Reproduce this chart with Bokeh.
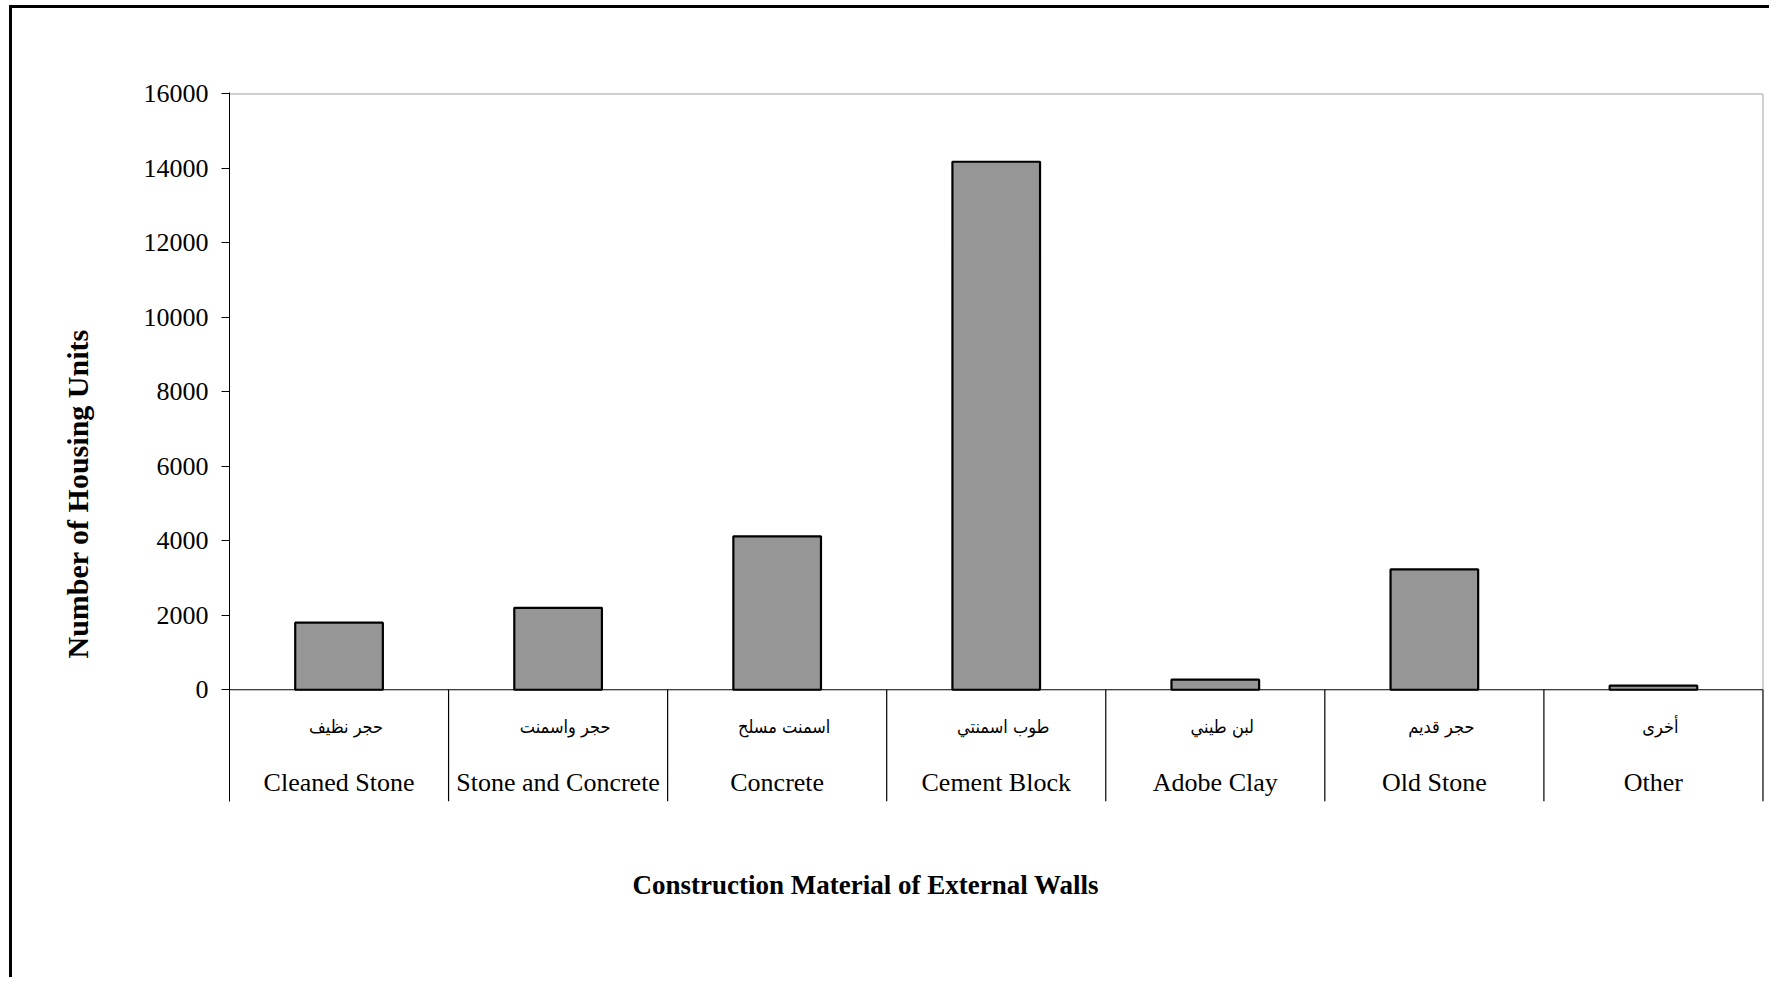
import numpy as np
from bokeh.plotting import figure
from bokeh.models import Range1d, FixedTicker, ColumnDataSource, Title
from bokeh.core.properties import value
from bokeh.embed import file_html
from bokeh.resources import INLINE

categories_en = ["Cleaned Stone", "Stone and Concrete", "Concrete", "Cement Block",
                 "Adobe Clay", "Old Stone", "Other"]
categories_ar = ["حجر نظيف", "حجر واسمنت", "اسمنت مسلح", "طوب اسمنتي",
                 "لبن طيني", "حجر قديم", "أخرى"]
housing_units = [1800, 2200, 4120, 14180, 270, 3230, 110]
y_ticks = [0, 2000, 4000, 6000, 8000, 10000, 12000, 14000, 16000]
x_title = "Construction Material of External Walls"
y_title = "Number of Housing Units"

n = len(categories_en)
xs = np.arange(n) + 0.5
y_max = 16000
px_per_unit = 597 / 16000.0
y_min = -112 / px_per_unit
y_top = y_max + 1.5 / px_per_unit

p = figure(width=1760, height=972, output_backend="svg", toolbar_location=None,
           x_range=Range1d(0, n + 0.007), y_range=Range1d(y_min, y_top),
           min_border_left=217, min_border_right=8, min_border_top=84, min_border_bottom=179)
p.styles = {"border-left": "3px solid black", "border-top": "3px solid black",
            "margin-left": "9px", "margin-top": "5px"}
p.outline_line_color = None
p.background_fill_color = "white"
p.border_fill_color = "white"
p.xgrid.visible = False
p.ygrid.visible = False

# y axis (ticks)
p.yaxis.ticker = FixedTicker(ticks=y_ticks)
p.yaxis.minor_tick_line_color = None
p.yaxis.major_tick_in = 0
p.yaxis.major_tick_out = 8
p.yaxis.major_tick_line_color = "black"
p.yaxis.axis_line_color = "black"
p.yaxis.major_label_text_font = "Liberation Serif"
p.yaxis.major_label_text_font_size = "26px"
p.yaxis.major_label_text_color = "black"
p.yaxis.major_label_standoff = 13

p.xaxis.visible = False

# axis titles as side-panel titles, shifted like the original
p.add_layout(Title(text=x_title, align="left", offset=403, vertical_align="middle",
                   standoff=135, text_font="Liberation Serif", text_font_style="bold",
                   text_font_size="27px", text_color="black"), "below")
p.add_layout(Title(text=y_title, align="left", offset=143, vertical_align="middle",
                   standoff=92, text_font="Liberation Serif", text_font_style="bold",
                   text_font_size="30px", text_color="black"), "left")

# frame lines: top and right grey, zero line black
p.segment(x0=[0], y0=[y_max], x1=[n], y1=[y_max], line_color="#c0c0c0", line_width=1.5)
p.segment(x0=[n], y0=[0], x1=[n], y1=[y_max], line_color="#c0c0c0", line_width=1.5)

# category separators
bounds = np.arange(1, n + 1)
p.segment(x0=bounds, y0=[0] * n, x1=bounds, y1=[y_min] * n, line_color="black", line_width=1.2)
p.segment(x0=[0], y0=[0], x1=[n], y1=[0], line_color="black", line_width=1.2)

src = ColumnDataSource(dict(x=xs, top=housing_units, en=categories_en, ar=categories_ar))
p.vbar(x="x", top="top", width=0.4, bottom=0, source=src,
       fill_color="#969696", line_color="black", line_width=2.2)

ar_y = -37 / px_per_unit
en_y = -93 / px_per_unit
p.text(x="x", y=ar_y, text="ar", source=src, text_align="center", text_baseline="middle",
       text_font=value("'DejaVu Sans Condensed', 'DejaVu Sans'"), text_font_size="18px",
       text_color="black", x_offset=7)
p.text(x="x", y=en_y, text="en", source=src, text_align="center", text_baseline="middle",
       text_font=value("Liberation Serif"), text_font_size="26px", text_color="black")

open("out.html", "w").write(file_html(p, INLINE))
